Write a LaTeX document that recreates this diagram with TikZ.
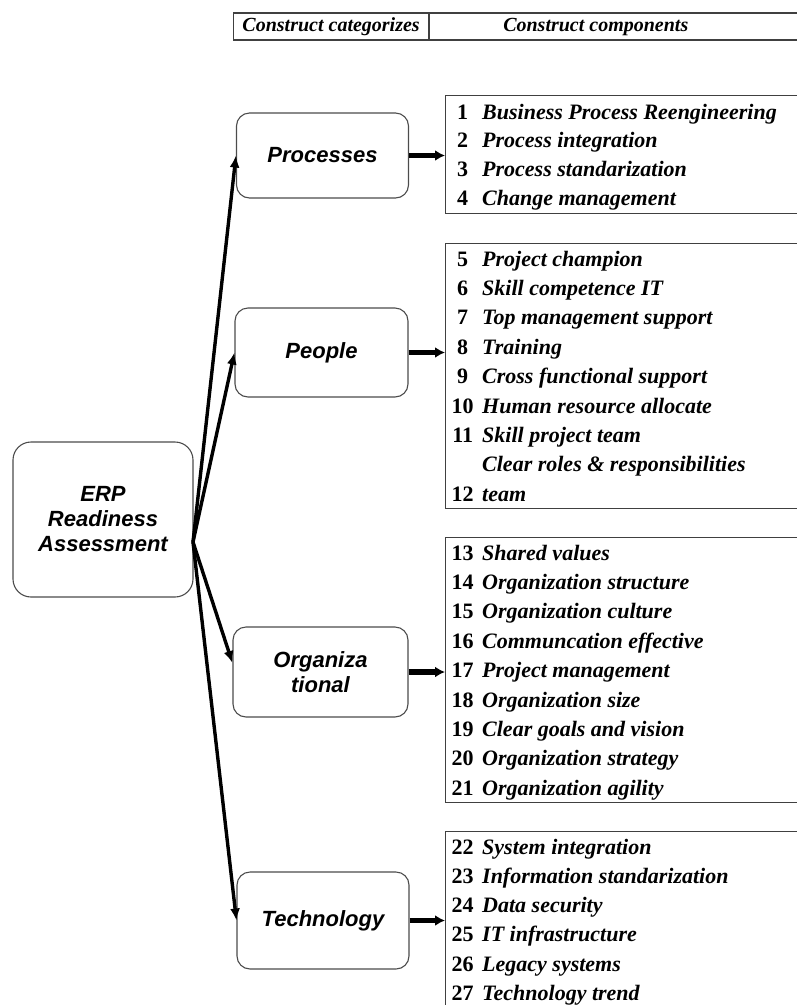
\documentclass[tikz,border=0pt]{standalone}
\usepackage{fontspec}
\setmainfont{Liberation Serif}
\setsansfont{Liberation Sans}
\usetikzlibrary{arrows.meta,positioning}
\tikzset{
  headcell/.style={
    draw=black!75,
    line width=1.2pt,
    minimum height=27pt,
    inner xsep=0pt,
    inner ysep=0pt,
    text height=14pt,
    text depth=4pt,
    anchor=west,
    font=\fontsize{20}{22}\selectfont\bfseries\itshape
  },
  rootbox/.style={
    draw=black!70,
    line width=1.1pt,
    rounded corners=18pt,
    align=center,
    minimum width=180pt,
    minimum height=155pt,
    font=\fontsize{22}{25}\selectfont\sffamily\bfseries\itshape
  },
  catbox/.style={
    draw=black!70,
    line width=1.1pt,
    rounded corners=13pt,
    align=center,
    minimum width=172pt,
    minimum height=88pt,
    font=\fontsize{22}{25}\selectfont\sffamily\bfseries\itshape
  },
  listbox/.style={
    draw=black!75,
    line width=1.3pt,
    minimum width=400pt,
    inner sep=0pt,
    anchor=north west
  },
  itemtext/.style={
    anchor=west,
    inner sep=0pt,
    text height=15pt,
    text depth=5pt,
    font=\fontsize{22}{26}\selectfont\bfseries
  },
  spokearrow/.style={
    -{Latex[length=12pt,width=10pt]},
    line width=3.4pt
  },
  feedarrow/.style={
    -{Latex[length=10pt,width=11pt]},
    line width=5.5pt
  }
}
\newcommand{\compitem}[2]{\makebox[23pt][c]{#1}\hspace{8pt}\textit{#2}}

\begin{document}
\begin{tikzpicture}[x=1pt, y=-1pt]
  \clip (0,0) rectangle (797,1005);
  % header
  \node[headcell, minimum width=195pt] (hcat) at (233,26.5) {Construct categorizes};
  \node[headcell, minimum width=400pt] (hcomp) at (hcat.east) {\makebox[400pt][l]{\makebox[332pt]{Construct components}}};
  % root and categories
  \node[rootbox] (erp) at (103,519.5) {ERP\\Readiness\\Assessment};
  \node[catbox, minimum height=85pt] (proc) at (322.5,155.5) {Processes};
  \node[catbox, minimum width=173pt, minimum height=89pt] (peop) at (321.5,352.5) {People};
  \node[catbox, minimum width=175pt, minimum height=90pt] (org) at (320.5,672) {Organiza\\tional};
  \node[catbox, minimum height=97pt] (tech) at (323,920.5) {Technology};
  \coordinate (hub) at (193,542);
  % component lists
  \node[listbox, minimum height=118pt] (proclist) at (445,95) {};
  \node[listbox, minimum height=265pt] (peoplist) at (445,243) {};
  \node[listbox, minimum height=265pt] (orglist) at (445,537) {};
  \node[listbox, minimum height=200pt] (techlist) at (445,831) {};
  \foreach \num/\name [count=\i from 0] in {1/Business Process Reengineering, 2/Process integration, 3/Process standarization, 4/Change management}
    \node[itemtext] (proc-\i) at (451,114+28.8*\i) {\compitem{\num}{\name}};
  \foreach \num/\name [count=\i from 0] in {5/Project champion, 6/Skill competence IT, 7/Top management support, 8/Training, 9/Cross functional support, 10/Human resource allocate, 11/Skill project team, {}/Clear roles \& responsibilities, 12/team}
    \node[itemtext] (peop-\i) at (451,261+29.4*\i) {\compitem{\num}{\name}};
  \foreach \num/\name [count=\i from 0] in {13/Shared values, 14/Organization structure, 15/Organization culture, 16/Communcation effective, 17/Project management, 18/Organization size, 19/Clear goals and vision, 20/Organization strategy, 21/Organization agility}
    \node[itemtext] (org-\i) at (451,555+29.4*\i) {\compitem{\num}{\name}};
  \foreach \num/\name [count=\i from 0] in {22/System integration, 23/Information standarization, 24/Data security, 25/IT infrastructure, 26/Legacy systems, 27/Technology trend}
    \node[itemtext] (tech-\i) at (451,849+29.3*\i) {\compitem{\num}{\name}};
  % connectors
  \draw[spokearrow] (hub) -- (proc.west);
  \draw[spokearrow] (hub) -- (peop.west);
  \draw[spokearrow] (hub) -- ([yshift=9pt]org.west);
  \draw[spokearrow] (hub) -- (tech.west);
  \draw[feedarrow] (proc.east) -- (proc.east -| proclist.west);
  \draw[feedarrow] (peop.east) -- (peop.east -| peoplist.west);
  \draw[feedarrow] (org.east) -- (org.east -| orglist.west);
  \draw[feedarrow] (tech.east) -- (tech.east -| techlist.west);
\end{tikzpicture}
\end{document}
